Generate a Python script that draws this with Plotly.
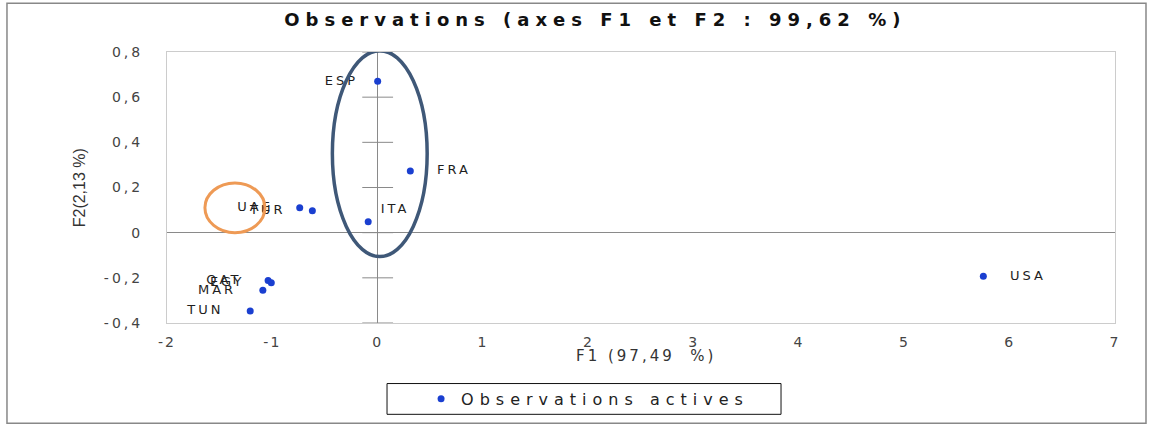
import plotly.graph_objects as go

# Data (F1, F2 coordinates)
labels = ["ESP", "FRA", "ITA", "UAE", "TUR", "QAT", "EGY", "MAR", "TUN", "USA"]
f1 = [0.00, 0.31, -0.09, -0.74, -0.62, -1.04, -1.01, -1.09, -1.21, 5.75]
f2 = [0.67, 0.273, 0.048, 0.11, 0.097, -0.212, -0.222, -0.255, -0.347, -0.193]
text_pos = ["middle left", "middle right", "top right", "middle left", "middle left",
            "middle left", "middle left", "middle left", "middle left", "middle right"]
label_gap = [2, 3, 1, 3, 3, 3, 3, 3, 3, 3]  # spaces between point and label

x_ticks = [-2, -1, 0, 1, 2, 3, 4, 5, 6, 7]
x_tick_text = ["-2", "-1", "0", "1", "2", "3", "4", "5", "6", "7"]
y_ticks = [-0.4, -0.2, 0, 0.2, 0.4, 0.6, 0.8]
y_tick_text = ["-0,4", "-0,2", "0", "0,2", "0,4", "0,6", "0,8"]


def spaced(s, px):
    return '<span style="letter-spacing:%dpx">%s</span>' % (px, s)


def pad(label, pos, n):
    if pos.endswith("left"):
        return label + " " * n
    return " " * n + label


fig = go.Figure()

# small cross-shaped tick marks on the vertical zero line
fig.add_trace(go.Scatter(
    x=[0] * len(y_ticks), y=y_ticks, mode="markers",
    marker=dict(symbol="line-ew", size=22, line=dict(color="#8a8a8a", width=1)),
    showlegend=False, hoverinfo="skip", cliponaxis=False))

fig.add_trace(go.Scatter(
    x=f1, y=f2, mode="markers+text",
    text=[spaced(pad(t, p, n), 3) for t, p, n in zip(labels, text_pos, label_gap)],
    textposition=text_pos,
    textfont=dict(family="DejaVu Sans", size=13, color="#1e1e1e"),
    marker=dict(color="#1a3fd0", size=7),
    name=spaced("Observations actives", 6)))

fig.update_layout(
    width=1156, height=428,
    paper_bgcolor="white", plot_bgcolor="white",
    margin=dict(l=167, r=41, t=52, b=103),
    title=dict(text="<b>" + spaced("Observations (axes F1 et F2 : 99,62 %)", 6) + "</b>",
               x=0.515, xanchor="center", y=0.953, yanchor="middle",
               font=dict(family="DejaVu Sans", size=18, color="#111111")),
    showlegend=True,
    legend=dict(orientation="h", x=0.268, xanchor="left", y=-0.28, yanchor="middle",
                borderwidth=0, bgcolor="rgba(0,0,0,0)",
                font=dict(family="DejaVu Sans", size=16, color="#222222"),
                itemwidth=30),
    xaxis=dict(range=[-2, 7], tickvals=x_ticks,
               ticktext=[spaced(t, 2) for t in x_tick_text], showgrid=False,
               zeroline=True, zerolinecolor="#8a8a8a", zerolinewidth=1,
               showline=True, linecolor="#cccccc", mirror=True,
               ticks="", ticklabelstandoff=6,
               tickfont=dict(family="DejaVu Sans", size=14, color="#444444")),
    yaxis=dict(range=[-0.4, 0.8], tickvals=y_ticks,
               ticktext=[spaced(t, 3) for t in y_tick_text], showgrid=False,
               zeroline=True, zerolinecolor="#8a8a8a", zerolinewidth=1,
               showline=True, linecolor="#cccccc", mirror=True,
               ticks="", ticklabelstandoff=20,
               tickfont=dict(family="DejaVu Sans", size=14, color="#444444")),
    annotations=[
        dict(text=spaced("F1 (97,49  %)", 3), xref="paper", yref="paper",
             x=0.505, y=-0.12, xanchor="center", yanchor="middle", showarrow=False,
             font=dict(family="DejaVu Sans", size=15, color="#333333")),
        dict(text="F2(2,13 %)", xref="paper", yref="paper", textangle=-90,
             x=-0.092, y=0.5, xanchor="center", yanchor="middle", showarrow=False,
             font=dict(family="Liberation Sans", size=16, color="#333333")),
    ],
    shapes=[
        dict(type="circle", xref="x", yref="y", x0=-0.43, x1=0.47, y0=-0.106, y1=0.806,
             line=dict(color="#3f5878", width=3.5)),
        dict(type="circle", xref="x", yref="y", x0=-1.64, x1=-1.07, y0=0.0, y1=0.22,
             line=dict(color="#ee9a55", width=3)),
        # legend box
        dict(type="rect", xref="paper", yref="paper", x0=0.2321, x1=0.6477, y0=-0.337, y1=-0.2234,
             line=dict(color="#111111", width=1)),
        # outer frame
        dict(type="rect", xref="paper", yref="paper", x0=-0.1688, x1=1.0327, y0=-0.37, y1=1.1795,
             line=dict(color="#888888", width=1.5), layer="below"),
    ],
)

fig.write_html("out.html", config={"displayModeBar": False},
               post_script="document.body.style.margin='0';")
